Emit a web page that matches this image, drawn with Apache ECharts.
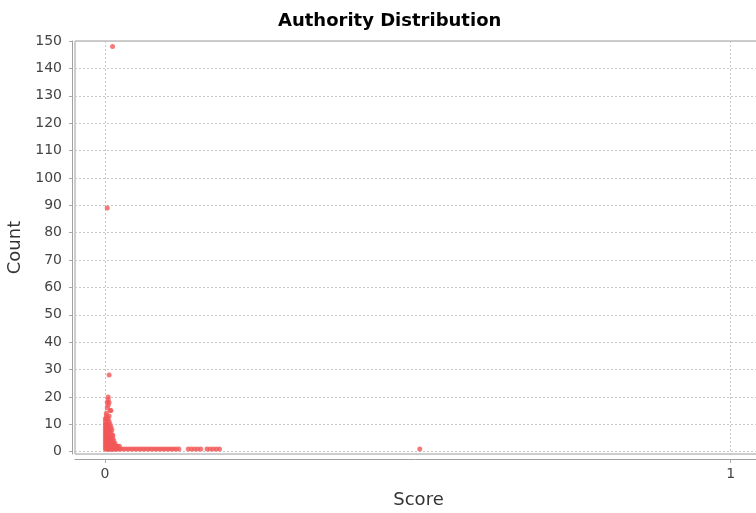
<!DOCTYPE html>
<html>
<head>
<meta charset="utf-8">
<script src="https://cdn.jsdelivr.net/npm/echarts@6/dist/echarts.min.js"></script>
<style>
  html, body { margin: 0; padding: 0; background: #fff; }
  #chart { width: 756px; height: 513px; }
</style>
</head>
<body>
<div id="chart"></div>
<script>
// Authority score values, and the node counts observed at each score
const scores = [
  0.0005, 0.002, 0.0035, 0.005, 0.0065, 0.008, 0.0095, 0.011, 0.012, 0.0125,
  0.014, 0.016, 0.018, 0.020, 0.023, 0.026,
  0.030, 0.034, 0.038, 0.042, 0.046, 0.050, 0.054, 0.058, 0.062, 0.066,
  0.070, 0.074, 0.078, 0.082, 0.086, 0.090, 0.094, 0.098, 0.102, 0.106,
  0.110, 0.114, 0.118,
  0.133, 0.138, 0.143, 0.148, 0.153,
  0.163, 0.168, 0.173, 0.178, 0.183,
  0.503
];
const countsAtScore = [
  [1, 2, 3, 4, 5, 6, 7, 8, 9, 10, 11, 12],
  [1, 2, 3, 4, 5, 6, 7, 8, 9, 10, 12, 13, 14],
  [1, 2, 3, 4, 5, 6, 7, 8, 9, 11, 16, 18, 89],
  [1, 2, 3, 4, 5, 6, 7, 8, 10, 12, 17, 19, 20],
  [1, 2, 3, 4, 5, 6, 7, 9, 11, 13, 18, 28],
  [1, 2, 3, 4, 5, 6, 8, 10, 15],
  [1, 2, 3, 4, 5, 7, 9, 15],
  [1, 2, 3, 4, 6, 8],
  [148],
  [1, 2, 3, 5, 6],
  [1, 2, 3, 4],
  [1, 2, 3],
  [1, 2],
  [1, 2],
  [1, 2],
  [1],
  [1], [1], [1], [1], [1], [1], [1], [1], [1], [1],
  [1], [1], [1], [1], [1], [1], [1], [1], [1], [1],
  [1], [1], [1],
  [1], [1], [1], [1], [1],
  [1], [1], [1], [1], [1],
  [1]
];
const xTicks = [0, 1];
const yTicks = [0, 10, 20, 30, 40, 50, 60, 70, 80, 90, 100, 110, 120, 130, 140, 150];

const points = [];
scores.forEach((s, i) => {
  countsAtScore[i].forEach(c => points.push([s, c]));
});

const font = "'DejaVu Sans', Verdana, sans-serif";
const gridLine = { show: true, lineStyle: { color: '#c6c6c6', type: [2, 2], width: 1 } };

const chart = echarts.init(document.getElementById('chart'), null, { renderer: 'canvas' });
chart.setOption({
  animation: false,
  backgroundColor: '#ffffff',
  title: {
    text: 'Authority Distribution',
    left: 273,
    top: 7,
    textStyle: { fontFamily: font, fontWeight: 'bold', fontSize: 18, color: '#000' }
  },
  grid: {
    left: 75, top: 41, width: 687, height: 413,
    outerBoundsMode: 'none',
    containLabel: false,
    show: true, borderColor: '#9a9a9a', borderWidth: 1, backgroundColor: '#fff'
  },
  xAxis: {
    type: 'value',
    min: -0.048, max: 1.05,
    offset: 5,
    name: 'Score',
    nameLocation: 'middle',
    nameGap: 32,
    nameTextStyle: { fontFamily: font, fontSize: 18, color: '#333' },
    axisLine: { show: true, onZero: false, lineStyle: { color: '#a0a0a0' } },
    axisTick: { show: true, customValues: xTicks, length: 4, lineStyle: { color: '#aaa' } },
    axisLabel: { customValues: xTicks, fontFamily: font, fontSize: 14, color: '#444', margin: 8 },
    splitLine: gridLine
  },
  yAxis: {
    type: 'value',
    min: -0.85, max: 150,
    offset: 3,
    name: 'Count',
    nameLocation: 'middle',
    nameGap: 48,
    nameTextStyle: { fontFamily: font, fontSize: 18, color: '#333' },
    axisLine: { show: true, onZero: false, lineStyle: { color: '#a0a0a0' } },
    axisTick: { show: true, customValues: yTicks, length: 3, lineStyle: { color: '#aaa' } },
    axisLabel: { customValues: yTicks, fontFamily: font, fontSize: 14, color: '#444', margin: 10 },
    splitLine: gridLine
  },
  series: [{
    type: 'scatter',
    data: points,
    symbol: 'circle',
    symbolSize: 5,
    itemStyle: { color: '#f25757' },
    emphasis: { disabled: true }
  }]
});
</script>
</body>
</html>
